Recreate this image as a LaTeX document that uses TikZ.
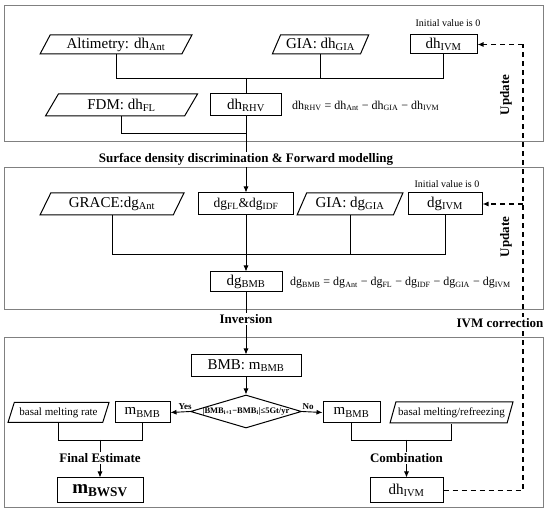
\documentclass[tikz,border=0pt]{standalone}
\usepackage{fontspec}
\setmainfont{Liberation Serif}
\usetikzlibrary{shapes.geometric,arrows.meta}
\newcommand\sbs[1]{\textsubscript{#1}}
\newcommand\fmain{\fontsize{15}{17}\selectfont}
\newcommand\feq{\fontsize{12}{14}\selectfont}
\newcommand\fsmall{\fontsize{11}{13}\selectfont}
\newcommand\fnote{\fontsize{10}{12}\selectfont}
\newcommand\fbold{\bfseries\fontsize{13}{15}\selectfont}
\begin{document}
\begin{tikzpicture}[x=1pt,y=-1pt,
  panel/.style={draw=black!50, line width=1pt},
  rbox/.style={draw, rectangle, line width=1pt, inner sep=0pt, font=\fmain},
  para/.style={draw, trapezium, trapezium left angle=61, trapezium right angle=119,
    trapezium stretches=true, line width=1pt, inner sep=0pt, font=\fmain},
  conn/.style={line width=0.9pt},
  arr/.style={conn, -{Latex[length=6pt,width=5pt]}},
  dashline/.style={line width=1.1pt, dash pattern=on 5pt off 4pt},
  darr/.style={dashline, -{Latex[length=6pt,width=5pt]}},
  lbl/.style={font=\fbold, fill=white, inner sep=1.5pt},
  note/.style={font=\fnote, inner sep=0pt},
  eqn/.style={font=\feq, inner sep=0pt, anchor=west}]
\useasboundingbox (0,0) rectangle (550,513);

% panels
\draw[panel] (4,6) rectangle (543,142);
\draw[panel] (4,168) rectangle (543,310);
\draw[panel] (4,338) rectangle (543,508);

% ---------- top panel
\node[para, minimum width=152pt, minimum height=19pt] (alt) at (116,44.5) {Altimetry: dh\sbs{Ant}};
\node[para, minimum width=97pt, minimum height=19pt] (gia1) at (320.5,44.5) {GIA: dh\sbs{GIA}};
\node[rbox, minimum width=67pt, minimum height=19pt] (ivm1) at (443.5,44.5) {dh\sbs{IVM}};
\node[note] (init1) at (448,23) {Initial value is 0};
\node[para, minimum width=153pt, minimum height=22pt] (fdm) at (121.5,105) {FDM: dh\sbs{FL}};
\node[rbox, minimum width=71pt, minimum height=22pt] (rhv) at (246,105) {dh\sbs{RHV}};
\node[eqn] (eq1) at (292,106) {dh\sbs{RHV} = dh\sbs{Ant} − dh\sbs{GIA} − dh\sbs{IVM}};
\coordinate (b1) at (246,78);
\coordinate (b2) at (246,133);
\draw[conn] (alt.south) |- (ivm1.south |- b1) -- (ivm1.south);
\draw[conn] (gia1.south) -- (gia1.south |- b1);
\draw[conn] (b1) -- (rhv.north);
\draw[conn] (fdm.south) |- (b2);

% ---------- middle panel
\node[para, minimum width=144pt, minimum height=22pt] (grace) at (112,204) {GRACE:dg\sbs{Ant}};
\node[rbox, minimum width=95pt, minimum height=22pt, font=\fontsize{13.5}{15}\selectfont] (dgfl) at (246,204) {dg\sbs{FL}\&dg\sbs{IDF}};
\node[para, minimum width=106pt, minimum height=22pt] (gia2) at (350,204) {GIA: dg\sbs{GIA}};
\node[rbox, minimum width=74pt, minimum height=22pt] (ivm2) at (445,204) {dg\sbs{IVM}};
\node[note] (init2) at (447,184) {Initial value is 0};
\node[rbox, minimum width=72pt, minimum height=20pt] (dgbmb) at (246,282) {dg\sbs{BMB}};
\node[eqn] (eq2) at (290,283) {dg\sbs{BMB} = dg\sbs{Ant} − dg\sbs{FL} − dg\sbs{IDF} − dg\sbs{GIA} − dg\sbs{IVM}};
\coordinate (b3) at (246,254);
\draw[conn] (grace.south) |- (ivm2.south |- b3) -- (ivm2.south);
\draw[conn] (gia2.south) -- (gia2.south |- b3);
\draw[arr] (dgfl.south) -- (dgbmb.north);

% link top -> middle
\draw[arr] (rhv.south) -- node[lbl, pos=0.56] (lsd) {Surface density discrimination \& Forward modelling} (dgfl.north);

% ---------- bottom panel
\node[rbox, minimum width=110pt, minimum height=22pt] (bmb) at (246,366) {BMB: m\sbs{BMB}};
\draw[arr] (dgbmb.south) -- node[lbl, pos=0.43] (linv) {Inversion} (bmb.north);
\node[diamond, draw, line width=1pt, inner sep=0pt, aspect=3.36, minimum width=111pt, minimum height=33pt] (dia) at (246,411.5)
  {\makebox[0pt]{\bfseries\fontsize{8.5}{10}\selectfont |BMB\sbs{i+1}−BMB\sbs{i}|≤5Gt/yr}};
\draw[arr] (bmb.south) -- (dia.north);

\node[rbox, minimum width=55pt, minimum height=21pt] (mbl) at (142.5,412.5) {m\sbs{BMB}};
\node[para, minimum width=101pt, minimum height=20pt, font=\fsmall] (basl) at (58.5,412.5) {basal melting rate};
\node[rbox, minimum width=57pt, minimum height=21pt] (mbr) at (351.5,412.5) {m\sbs{BMB}};
\node[para, minimum width=123pt, minimum height=21pt, font=\fsmall] (basr) at (451.5,412.5) {basal melting/refreezing};
\draw[arr] (dia.west) -- node[above, font=\bfseries\fontsize{9}{10}\selectfont, inner sep=2pt, pos=0.25] (lyes) {Yes} (mbl.east);
\draw[arr] (dia.east) -- node[above, font=\bfseries\fontsize{9}{10}\selectfont, inner sep=2pt, pos=0.3] (lno) {No} (mbr.west);

\node[rbox, minimum width=86pt, minimum height=25pt, font=\bfseries\fontsize{19}{21}\selectfont] (bwsv) at (100,490.5) {m\sbs{BWSV}};
\node[rbox, minimum width=73pt, minimum height=25pt] (ivm3) at (406.5,490.5) {dh\sbs{IVM}};
\coordinate (b4) at (100,440);
\coordinate (b5) at (406.5,440);
\draw[conn] (basl.south) |- (mbl.south |- b4) -- (mbl.south);
\draw[conn] (mbr.south) |- (basr.south |- b5) -- (basr.south);
\draw[arr] (b4) -- node[lbl, pos=0.47] (lfin) {Final Estimate} (bwsv.north);
\draw[arr] (b5) -- node[lbl, pos=0.47] (lcomb) {Combination} (ivm3.north);

% ---------- IVM correction loop
\coordinate (dc) at (523,490);
\draw[dashline] (ivm3.east) -- (ivm3.east -| dc) -- (ivm1.east -| dc);
\draw[darr] (ivm1.east -| dc) -- (ivm1.east);
\draw[darr] (ivm2.east -| dc) -- (ivm2.east);
\node[lbl, fill=none, rotate=90] (up1) at (506,95) {Update};
\node[lbl, fill=none, rotate=90] (up2) at (506,237) {Update};
\node[lbl] (livm) at (500,323) {IVM correction};
\end{tikzpicture}
\end{document}
